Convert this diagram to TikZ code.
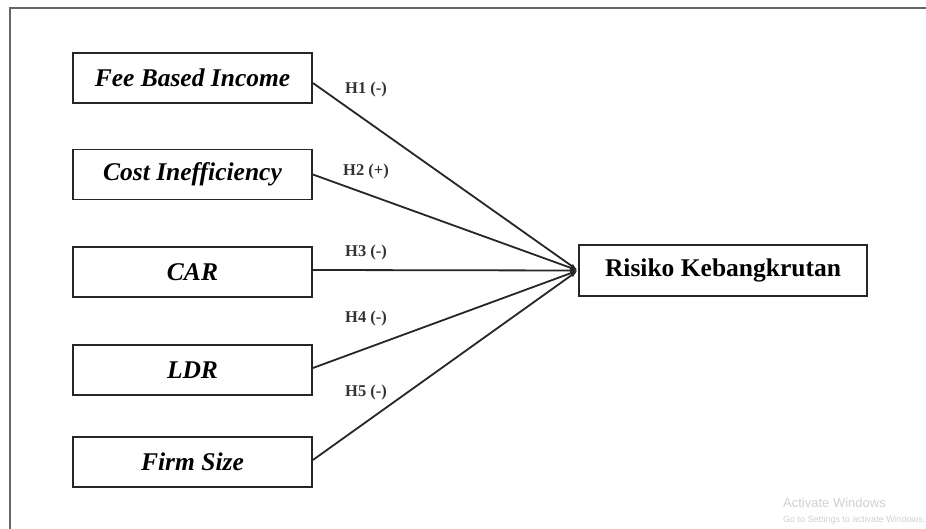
\documentclass[tikz,border=0pt]{standalone}
\usepackage{fontspec}
\setmainfont{Liberation Serif}
\newfontfamily\wmfont{Liberation Sans}
\usetikzlibrary{arrows.meta}
\begin{document}
\begin{tikzpicture}[x=1pt,y=-1pt,
  varbox/.style={draw=black!85, line width=1.8pt, minimum width=239pt, minimum height=50pt, inner sep=0pt,
    font=\fontsize{25.5}{28}\selectfont\bfseries\itshape},
  depbox/.style={draw=black!85, line width=1.8pt, minimum width=288pt, minimum height=51pt, inner sep=0pt,
    font=\fontsize{25.5}{28}\selectfont\bfseries},
  hyp/.style={anchor=west, inner sep=0pt, text=black!80, font=\fontsize{16.5}{18}\selectfont\bfseries},
  link/.style={draw=black!85, line width=1.8pt, -{Latex[length=8pt,width=4.5pt]}},
  wm/.style={anchor=west, inner sep=0pt, text=black!18, font=\wmfont}]
\useasboundingbox (0,0) rectangle (926,529);
\begin{scope}
\clip (0,0) rectangle (926,529);
\fill[white] (0,0) rectangle (926,529);
\draw[line width=2.8pt, draw=black!60] (10,8) rectangle (960,560);
\end{scope}
\node[varbox] (fbi) at (192.5,78) {Fee Based Income};
\node[varbox] (ci)  at (192.5,174.5) {Cost Inefficiency};
\node[varbox] (car) at (192.5,272) {CAR};
\node[varbox] (ldr) at (192.5,370) {LDR};
\node[varbox] (fs)  at (192.5,462) {Firm Size};
\node[depbox] (rk)  at (723,270.5) {Risiko Kebangkrutan};
\draw[link] ([yshift=-5pt]fbi.east) -- (rk.west);
\draw[link] (ci.east) -- (rk.west);
\draw[link] ([yshift=2pt]car.east) -- (rk.west);
\draw[link] ([yshift=2pt]ldr.east) -- (rk.west);
\draw[link] ([yshift=2pt]fs.east) -- (rk.west);
\node[hyp] (h1) at (345,90) {H1 (-)};
\node[hyp] (h2) at (343,172) {H2 (+)};
\node[hyp] (h3) at (345,253) {H3 (-)};
\node[hyp] (h4) at (345,319) {H4 (-)};
\node[hyp] (h5) at (345,393) {H5 (-)};
\node[wm, font=\wmfont\fontsize{13}{14}\selectfont] (w1) at (783,503) {Activate Windows};
\begin{scope}
\clip (0,0) rectangle (926,529);
\node[wm, font=\wmfont\fontsize{9}{10}\selectfont] (w2) at (783,520) {Go to Settings to activate Windows.};
\end{scope}
\end{tikzpicture}
\end{document}
